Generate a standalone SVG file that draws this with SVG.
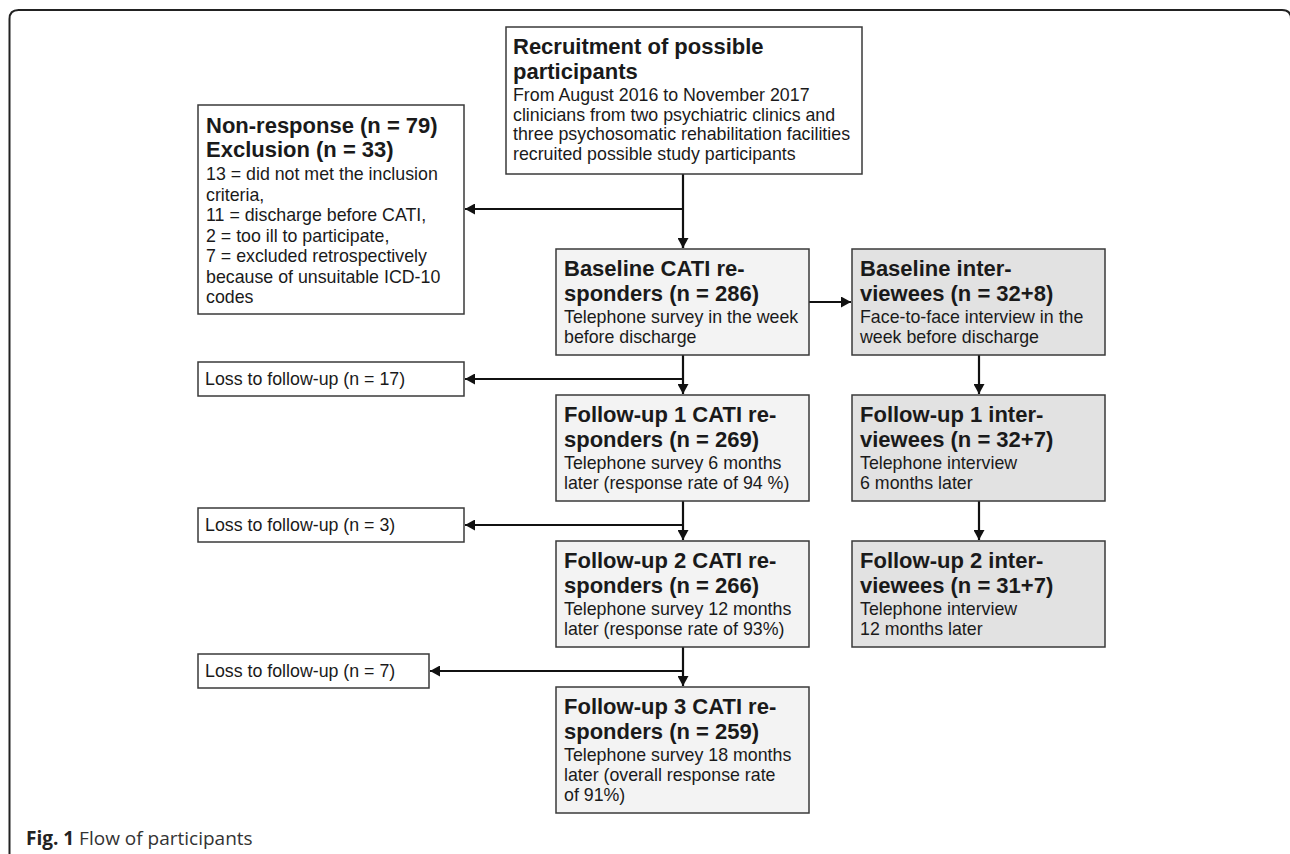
<svg xmlns="http://www.w3.org/2000/svg" width="1290" height="854" viewBox="0 0 1290 854">
<style>
.box{stroke:#3a3a3a;stroke-width:1.5}
.w{fill:#ffffff}
.c{fill:#f3f3f3}
.i{fill:#e2e2e2}
.t{font-family:"Liberation Sans",Arial,sans-serif;fill:#1a1a1a}
.b{font-size:22px;font-weight:bold}
.r{font-size:17.8px}
.ln{stroke:#111;stroke-width:2.2;fill:none}
.cap{font-family:"Open Sans","Noto Sans",sans-serif;font-size:19px;fill:#333}
</style>
<defs>
<marker id="ah" markerUnits="userSpaceOnUse" markerWidth="12" markerHeight="11" refX="10" refY="5.5" orient="auto">
<path d="M0,0 L10,5.5 L0,11 z" fill="#111"/>
</marker>
</defs>
<rect width="1290" height="854" fill="#ffffff"/>
<path d="M9.5 854 V19 Q9.5 10 18.5 10 H1282 Q1291 10 1291 19 V854" fill="none" stroke="#222" stroke-width="2"/>

<g id="connectors">
<path class="ln" d="M683 174 V248"/>
<path class="ln" d="M683 209 H465" marker-end="url(#ah)"/>
<path class="ln" d="M683 241 V248" marker-end="url(#ah)"/>
<path class="ln" d="M809 302 H851" marker-end="url(#ah)"/>
<path class="ln" d="M683 355 V394" marker-end="url(#ah)"/>
<path class="ln" d="M683 379 H465" marker-end="url(#ah)"/>
<path class="ln" d="M979 355 V394" marker-end="url(#ah)"/>
<path class="ln" d="M683 501 V540" marker-end="url(#ah)"/>
<path class="ln" d="M683 525 H465" marker-end="url(#ah)"/>
<path class="ln" d="M979 501 V540" marker-end="url(#ah)"/>
<path class="ln" d="M683 647 V686" marker-end="url(#ah)"/>
<path class="ln" d="M683 671 H430" marker-end="url(#ah)"/>
</g>

<g id="recruitment">
<rect class="box w" x="506" y="27" width="356" height="147"/>
<text class="t b" x="513" y="54">Recruitment of possible</text>
<text class="t b" x="513" y="79">participants</text>
<text class="t r" x="513" y="101">From August 2016 to November 2017</text>
<text class="t r" x="513" y="120.5">clinicians from two psychiatric clinics and</text>
<text class="t r" x="513" y="140">three psychosomatic rehabilitation facilities</text>
<text class="t r" x="513" y="159.5">recruited possible study participants</text>
</g>

<g id="exclusion">
<rect class="box w" x="198" y="105" width="266" height="209"/>
<text class="t b" x="206" y="133">Non-response (n = 79)</text>
<text class="t b" x="206" y="157">Exclusion (n = 33)</text>
<text class="t r" x="206" y="180">13 = did not met the inclusion</text>
<text class="t r" x="206" y="200.5">criteria,</text>
<text class="t r" x="206" y="221">11 = discharge before CATI,</text>
<text class="t r" x="206" y="241.5">2 = too ill to participate,</text>
<text class="t r" x="206" y="262">7 = excluded retrospectively</text>
<text class="t r" x="206" y="282.5">because of unsuitable ICD-10</text>
<text class="t r" x="206" y="303">codes</text>
</g>

<g id="baseline-cati">
<rect class="box c" x="556" y="249" width="253" height="106"/>
<text class="t b" x="564" y="276">Baseline CATI re-</text>
<text class="t b" x="564" y="301">sponders (n = 286)</text>
<text class="t r" x="564" y="323">Telephone survey in the week</text>
<text class="t r" x="564" y="343">before discharge</text>
</g>

<g id="baseline-interview">
<rect class="box i" x="852" y="249" width="253" height="106"/>
<text class="t b" x="860" y="276">Baseline inter-</text>
<text class="t b" x="860" y="301">viewees (n = 32+8)</text>
<text class="t r" x="860" y="323">Face-to-face interview in the</text>
<text class="t r" x="860" y="343">week before discharge</text>
</g>

<g id="loss1">
<rect class="box w" x="198" y="362" width="266" height="34"/>
<text class="t r" x="205" y="385">Loss to follow-up (n = 17)</text>
</g>

<g id="fu1-cati">
<rect class="box c" x="556" y="395" width="253" height="106"/>
<text class="t b" x="564" y="422">Follow-up 1 CATI re-</text>
<text class="t b" x="564" y="447">sponders (n = 269)</text>
<text class="t r" x="564" y="469">Telephone survey 6 months</text>
<text class="t r" x="564" y="489">later (response rate of 94 %)</text>
</g>

<g id="fu1-interview">
<rect class="box i" x="852" y="395" width="253" height="106"/>
<text class="t b" x="860" y="422">Follow-up 1 inter-</text>
<text class="t b" x="860" y="447">viewees (n = 32+7)</text>
<text class="t r" x="860" y="469">Telephone interview</text>
<text class="t r" x="860" y="489">6 months later</text>
</g>

<g id="loss2">
<rect class="box w" x="198" y="508" width="266" height="34"/>
<text class="t r" x="205" y="531">Loss to follow-up (n = 3)</text>
</g>

<g id="fu2-cati">
<rect class="box c" x="556" y="541" width="253" height="106"/>
<text class="t b" x="564" y="568">Follow-up 2 CATI re-</text>
<text class="t b" x="564" y="593">sponders (n = 266)</text>
<text class="t r" x="564" y="615">Telephone survey 12 months</text>
<text class="t r" x="564" y="635">later (response rate of 93%)</text>
</g>

<g id="fu2-interview">
<rect class="box i" x="852" y="541" width="253" height="106"/>
<text class="t b" x="860" y="568">Follow-up 2 inter-</text>
<text class="t b" x="860" y="593">viewees (n = 31+7)</text>
<text class="t r" x="860" y="615">Telephone interview</text>
<text class="t r" x="860" y="635">12 months later</text>
</g>

<g id="loss3">
<rect class="box w" x="198" y="654" width="231" height="34"/>
<text class="t r" x="205" y="677">Loss to follow-up (n = 7)</text>
</g>

<g id="fu3-cati">
<rect class="box c" x="556" y="687" width="253" height="126"/>
<text class="t b" x="564" y="714">Follow-up 3 CATI re-</text>
<text class="t b" x="564" y="739">sponders (n = 259)</text>
<text class="t r" x="564" y="761">Telephone survey 18 months</text>
<text class="t r" x="564" y="781">later (overall response rate</text>
<text class="t r" x="564" y="801">of 91%)</text>
</g>

<text class="cap" x="26" y="845"><tspan font-weight="bold" fill="#222">Fig. 1</tspan> Flow of participants</text>
</svg>
